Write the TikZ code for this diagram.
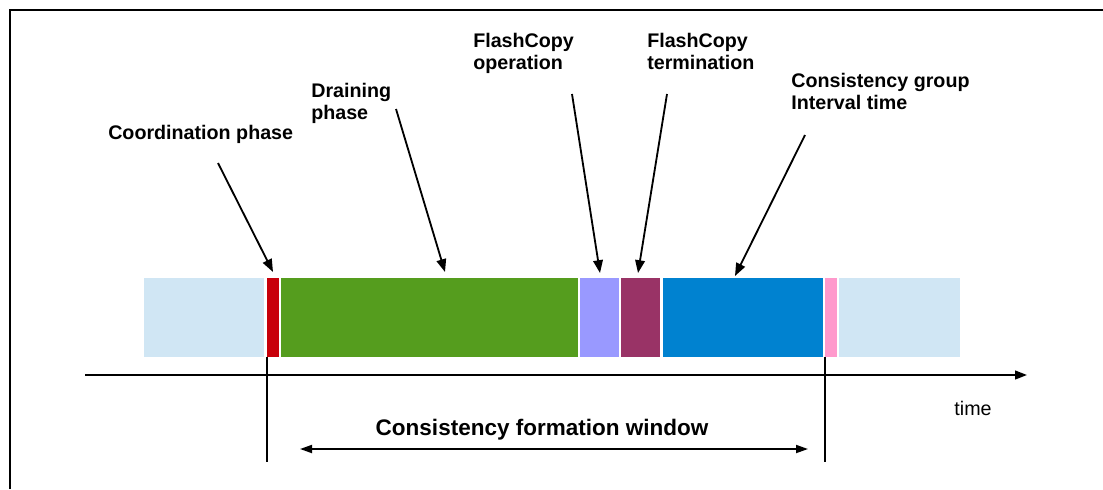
\documentclass[tikz,border=0pt]{standalone}
\usepackage{fontspec}
\setmainfont{Liberation Sans}
\usetikzlibrary{arrows.meta}

\definecolor{idle}{HTML}{D0E6F4}
\definecolor{coordred}{HTML}{C8000A}
\definecolor{draingreen}{HTML}{559D1E}
\definecolor{fcopcol}{HTML}{9999FF}
\definecolor{fctermcol}{HTML}{993366}
\definecolor{cgblue}{HTML}{0082D0}
\definecolor{cgpink}{HTML}{FF99CC}

\tikzset{
  seg/.style={anchor=north west, minimum height=79*0.025cm, inner sep=0pt, outer sep=0pt},
  lbl/.style={anchor=north west, align=left, inner sep=0pt, font=\fontsize{14}{15.5}\selectfont\bfseries},
  ptr/.style={-{Triangle[length=0.32cm,width=0.24cm]}, line width=1.3pt},
}

\begin{document}
\begin{tikzpicture}[x=0.025cm, y=-0.025cm]
\useasboundingbox (0,0) rectangle (1103,489);
\draw[line width=0.9pt] (10,489) -- (10,10) -- (1103,10);

% the bar
\node[seg, fill=idle, minimum width=120*0.025cm] (pre) at (144,278) {};
\node[seg, fill=coordred, minimum width=12*0.025cm] (coordn) at (267,278) {};
\node[seg, fill=draingreen, minimum width=297*0.025cm] (drain) at (281,278) {};
\node[seg, fill=fcopcol, minimum width=39*0.025cm] (fcop) at (580,278) {};
\node[seg, fill=fctermcol, minimum width=39*0.025cm] (fcterm) at (621,278) {};
\node[seg, fill=cgblue, minimum width=160*0.025cm] (cgint) at (663,278) {};
\node[seg, fill=cgpink, minimum width=12*0.025cm] (cgend) at (825,278) {};
\node[seg, fill=idle, minimum width=121*0.025cm] (post) at (839,278) {};

% labels
\node[lbl] (lcoord) at (108,125) {Coordination phase};
\node[lbl] (ldrain) at (311,83) {Draining\\phase};
\node[lbl] (lfcop) at (473,33) {FlashCopy\\operation};
\node[lbl] (lfcterm) at (647,33) {FlashCopy\\termination};
\node[lbl] (lcg) at (791,73) {Consistency group\\Interval time};

\coordinate (tcoord) at (218,163);
\coordinate (tdrain) at (396,109);
\coordinate (tfcop) at (572,94);
\coordinate (tfcterm) at (667,94);
\coordinate (tcg) at (805,135);

\draw[ptr] (tcoord) -- ([shift={(6,-6)}]coordn.north west);
\draw[ptr] (tdrain) -- ([shift={(164,-6)}]drain.north west);
\draw[ptr] (tfcop) -- ([shift={(20,-5)}]fcop.north west);
\draw[ptr] (tfcterm) -- ([shift={(17,-5)}]fcterm.north west);
\draw[ptr] (tcg) -- ([shift={(72,-2)}]cgint.north west);

% time axis
\coordinate (t0) at (85,375);
\coordinate (t1) at (1027,375);
\draw[line width=1.3pt, -{Triangle[length=0.3cm,width=0.22cm]}] (t0) -- (t1);
\node[font=\fontsize{14}{16}\selectfont] (ltime) at (973,408) {time};

\draw[line width=1.1pt] (coordn.south west) -- ++(0,105);
\draw[line width=1.1pt] (cgend.south west) -- ++(0,105);

\coordinate (w0) at (300,449);
\coordinate (w1) at (808,449);
\draw[line width=1.3pt, {Triangle[length=0.3cm,width=0.2cm]}-{Triangle[length=0.3cm,width=0.2cm]}] (w0) -- (w1);
\node[font=\fontsize{16}{18}\selectfont\bfseries] (lwin) at (542,430) {Consistency formation window};
\end{tikzpicture}
\end{document}
